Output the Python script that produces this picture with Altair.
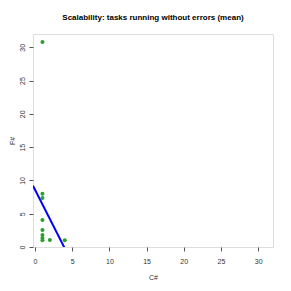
import altair as alt
import pandas as pd

csharp = [1, 1, 1, 1, 1, 1, 1, 1, 2, 4]
fsharp = [30.8, 8.0, 7.35, 4.05, 2.55, 1.8, 1.35, 1.0, 1.05, 1.0]
fit_intercept = 8.6
fit_slope = -2.2
x_ticks = [0, 5, 10, 15, 20, 25, 30]
y_ticks = [0, 5, 10, 15, 20, 25, 30]

pts = pd.DataFrame({"C#": csharp, "F#": fsharp})
line_x = [-0.27, 32]
line_df = pd.DataFrame({"C#": line_x, "F#": [fit_intercept + fit_slope * v for v in line_x]})

xscale = alt.Scale(domain=[-0.27, 32], nice=False, zero=False)
yscale = alt.Scale(domain=[0, 32], nice=False, zero=False)

xaxis = alt.Axis(values=x_ticks, grid=False, domain=False, tickColor="#555", tickSize=4,
                 labelFontSize=7, labelColor="#333", labelPadding=6, labelFont="Liberation Sans",
                 labelOverlap=False,
                 title="C#", titleFontSize=7, titleFontWeight="normal", titleColor="#333",
                 titleFont="Liberation Sans", titlePadding=9)
yaxis = alt.Axis(values=y_ticks, grid=False, domain=False, tickColor="#555", tickSize=4,
                 labelFontSize=7, labelColor="#333", labelAngle=270, labelAlign="center",
                 labelBaseline="bottom", labelPadding=4, labelFont="Liberation Sans",
                 labelOverlap=False,
                 title="F#", titleFontSize=7, titleFontWeight="normal", titleColor="#333",
                 titleFont="Liberation Sans", titlePadding=3)

xenc = alt.X("C#:Q", scale=xscale, axis=xaxis)
yenc = alt.Y("F#:Q", scale=yscale, axis=yaxis)

points = alt.Chart(pts).mark_circle(size=16, color="#2ca02c", opacity=1).encode(x=xenc, y=yenc)
line = alt.Chart(line_df).mark_line(color="#0000ff", strokeWidth=2, clip=True).encode(x=xenc, y=yenc)

chart = alt.layer(line, points).properties(
    width=240, height=213,
    title=alt.TitleParams("Scalability: tasks running without errors (mean)", fontSize=8,
                          fontWeight="bold", font="Liberation Sans", color="#000", offset=12,
                          anchor="middle"),
    autosize=alt.AutoSizeParams(type="none"),
    padding={"left": 25, "top": 26, "right": 10, "bottom": 36},
).configure_view(stroke="#888", strokeWidth=1.2).configure(background="white")

chart.save("out.html", embed_options={"renderer": "svg", "actions": False})
